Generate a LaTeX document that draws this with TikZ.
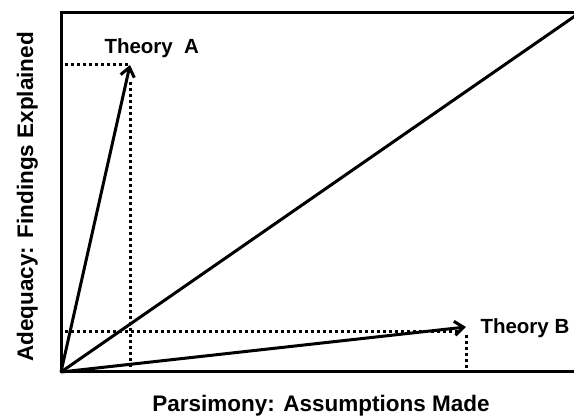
\documentclass[tikz,border=0pt]{standalone}
\usepackage{fontspec}
\setmainfont{Liberation Sans}
\usetikzlibrary{arrows.meta}

\begin{document}
\begin{tikzpicture}[x=1pt, y=-1pt, line width=3pt,
    vec/.style={-{Straight Barb[length=9pt, width=14pt]}, line width=3pt},
    guide/.style={line width=3pt, dash pattern=on 3pt off 3pt},
    axislabel/.style={font=\bfseries\fontsize{22.5}{26}\selectfont, inner sep=0pt},
    theorylabel/.style={font=\bfseries\fontsize{20.5}{24}\selectfont, inner sep=0pt}]
  \useasboundingbox (0,0) rectangle (574,417);
  % Points
  \coordinate (origin) at (61,372);
  \coordinate (tipA) at (130,65);
  \coordinate (tipB) at (466,327);
  \coordinate (corner) at (575,16);
  % Frame
  \draw (576,13) -- (61,13) -- (origin) -- (576,372);
  % Dotted guides
  \draw[guide] (65,65) -- (tipA);
  \draw[guide] (130,82) -- (130,372);
  \draw[guide] (65,332) -- (458,332);
  \draw[guide] (466,335) -- (466,372);
  % Diagonal and theory vectors
  \draw (origin) -- (corner);
  \draw[vec] (origin) -- (tipA);
  \draw[vec] (origin) -- (tipB);
  % Labels
  \node[theorylabel, anchor=base west] (labA) at (103,54) {Theory\ \ A};
  \node[theorylabel, anchor=base west] (labB) at (479,334) {Theory B};
  \node[axislabel, anchor=base] (xlab) at (321,411) {Parsimony: Assumptions Made};
  \node[axislabel, anchor=base, rotate=90] (ylab) at (33,197) {Adequacy: Findings Explained};
\end{tikzpicture}
\end{document}
